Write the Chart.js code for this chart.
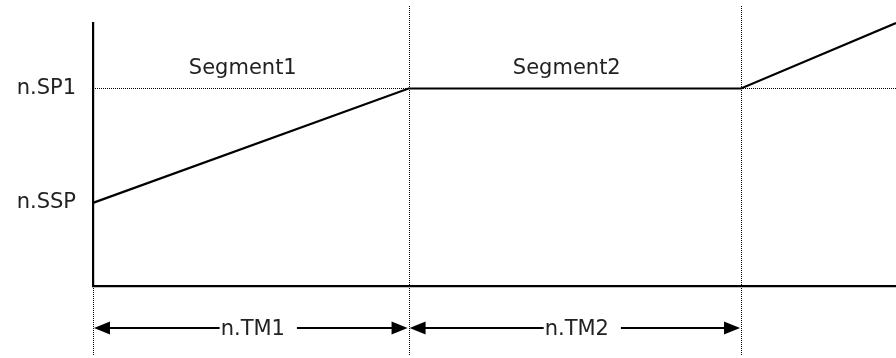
<!DOCTYPE html>
<html>
<head>
<meta charset="utf-8">
<script src="https://cdn.jsdelivr.net/npm/chart.js@4"></script>
<style>
  html, body { margin: 0; padding: 0; background: #fff; }
  #wrap { width: 896px; height: 358px; }
</style>
</head>
<body>
<div id="wrap"><canvas id="profileChart"></canvas></div>
<script>
// Ramp/soak profile, values (time 0..100, value 0..100)
const timeMarks = [0, 39.3, 80.7, 100];
const setpoints = [31.6, 75.1, 75.1, 100];
const yTickValues = [31.6, 75.1];
const yTickLabels = ["n.SSP", "n.SP1"];
const segmentLabels = ["Segment1", "Segment2"];
const durationLabels = ["n.TM1", "n.TM2"];

const FONT = "21px 'DejaVu Sans', sans-serif";

function dotted(ctx, x1, y1, x2, y2) {
    ctx.save();
    ctx.strokeStyle = "#000";
    ctx.lineWidth = 1;
    ctx.setLineDash([1, 1]);
    ctx.beginPath();
    ctx.moveTo(x1, y1);
    ctx.lineTo(x2, y2);
    ctx.stroke();
    ctx.restore();
}

function arrowHead(ctx, tipX, y, dir) {
    ctx.beginPath();
    ctx.moveTo(tipX, y);
    ctx.lineTo(tipX - dir * 16, y - 6.5);
    ctx.lineTo(tipX - dir * 16, y + 6.5);
    ctx.closePath();
    ctx.fill();
}

// guide lines, segment names and duration arrows
const profileNotes = {
    id: "profileNotes",
    beforeDatasetsDraw(chart) {
        const ctx = chart.ctx;
        const x = chart.scales.x, y = chart.scales.y;
        const area = chart.chartArea;
        // horizontal guide at SP1
        const ySP = Math.round(y.getPixelForValue(setpoints[1])) + 0.5;
        dotted(ctx, area.left, ySP, area.right, ySP);
        // vertical guides
        const x0 = x.getPixelForValue(timeMarks[0]);
        dotted(ctx, x0 + 0.5, area.bottom, x0 + 0.5, 356);
        for (let i = 1; i <= 2; i++) {
            const px = Math.round(x.getPixelForValue(timeMarks[i])) + 0.5;
            dotted(ctx, px, 6, px, 356);
        }
    },
    afterDraw(chart) {
        const ctx = chart.ctx;
        const x = chart.scales.x;
        const area = chart.chartArea;
        ctx.save();
        ctx.font = FONT;
        ctx.fillStyle = "#222";
        ctx.textBaseline = "middle";
        ctx.textAlign = "center";
        // segment names
        segmentLabels.forEach((txt, i) => {
            const mid = (x.getPixelForValue(timeMarks[i]) + x.getPixelForValue(timeMarks[i + 1])) / 2;
            ctx.fillText(txt, mid - 8, 69);
        });
        // duration arrows
        const ay = area.bottom + 42;
        ctx.strokeStyle = "#000";
        ctx.fillStyle = "#000";
        ctx.lineWidth = 2;
        durationLabels.forEach((txt, i) => {
            const xa = x.getPixelForValue(timeMarks[i]);
            const xb = x.getPixelForValue(timeMarks[i + 1]);
            const mid = (xa + xb) / 2;
            const w = ctx.measureText(txt).width;
            const t0 = mid - w / 2 + 2;
            ctx.beginPath();
            ctx.moveTo(xa + 4, ay);
            ctx.lineTo(t0 - 1, ay);
            ctx.moveTo(t0 + w + 12, ay);
            ctx.lineTo(xb - 4, ay);
            ctx.stroke();
            arrowHead(ctx, xa + 1, ay, -1);
            arrowHead(ctx, xb - 1, ay, 1);
            ctx.fillStyle = "#222";
            ctx.textAlign = "left";
            ctx.fillText(txt, t0, ay + 2);
            ctx.fillStyle = "#000";
        });
        ctx.restore();
    }
};

new Chart(document.getElementById("profileChart"), {
    type: "scatter",
    data: {
        datasets: [{
            data: timeMarks.map((t, i) => ({ x: t, y: setpoints[i] })),
            showLine: true,
            borderColor: "#000",
            borderWidth: 2.2,
            pointRadius: 0,
            clip: 4
        }]
    },
    options: {
        responsive: true,
        maintainAspectRatio: false,
        animation: false,
        layout: { padding: { top: 23, right: 0, left: 0, bottom: 0 } },
        plugins: { legend: { display: false }, tooltip: { enabled: false } },
        scales: {
            x: {
                type: "linear",
                min: 0,
                max: 100,
                grid: { display: false },
                border: { display: true, color: "#000", width: 2.2 },
                ticks: { display: false },
                afterFit: s => { s.height = 72; s.paddingLeft = 0; s.paddingRight = 0; }
            },
            y: {
                type: "linear",
                min: 0,
                max: 100,
                grid: { display: false, drawTicks: false },
                border: { display: true, color: "#000", width: 2.2 },
                afterBuildTicks: s => { s.ticks = yTickValues.map(v => ({ value: v })); },
                ticks: {
                    padding: 17,
                    color: "#222",
                    font: { family: "'DejaVu Sans', sans-serif", size: 21 },
                    callback: (v, i) => yTickLabels[i]
                },
                afterFit: s => { s.width = 93; s.paddingTop = 0; s.paddingBottom = 0; }
            }
        }
    },
    plugins: [profileNotes]
});
</script>
</body>
</html>
